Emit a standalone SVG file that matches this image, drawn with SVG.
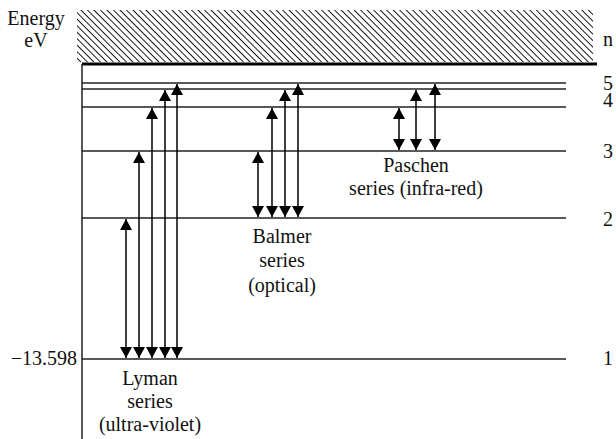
<svg xmlns="http://www.w3.org/2000/svg" width="616" height="439" viewBox="0 0 616 439">
  <style>
    text { font-family: "Times New Roman", Times, "Liberation Serif", Tinos, "Noto Serif", "DejaVu Serif", serif; font-size: 20px; fill: #111; }
    .mid { text-anchor: middle; }
    .end { text-anchor: end; }
    .level { stroke: #222; stroke-width: 1.5; fill: none; }
    .arrow { stroke: #000; stroke-width: 1.5; fill: none; marker-start: url(#head); marker-end: url(#head); }
  </style>
  <defs>
    <pattern id="hatch" patternUnits="userSpaceOnUse" width="4.6" height="4.6" patternTransform="rotate(45)">
      <line x1="0" y1="0.5" x2="4.6" y2="0.5" stroke="#000" stroke-width="0.9"/>
    </pattern>
    <marker id="head" viewBox="0 0 11 12" refX="11" refY="6" markerWidth="11" markerHeight="12" markerUnits="userSpaceOnUse" orient="auto-start-reverse">
      <path d="M0,0 L11,6 L0,12 z" fill="#000"/>
    </marker>
  </defs>

  <!-- continuum (ionised) region above the levels -->
  <g id="continuum">
    <rect x="77" y="10" width="516" height="52" fill="url(#hatch)"/>
    <line x1="82" y1="64" x2="597" y2="64" stroke="#000" stroke-width="3"/>
  </g>

  <!-- energy axis -->
  <g id="axis">
    <line x1="82" y1="64" x2="82" y2="439" stroke="#222" stroke-width="1.5"/>
    <text class="mid" x="36" y="25">Energy</text>
    <text class="mid" x="36" y="47">eV</text>
    <text class="end" x="77" y="365">−13.598</text>
    <text x="603" y="46">n</text>
  </g>

  <!-- energy levels -->
  <g id="levels">
    <line class="level" x1="82" y1="83" x2="566" y2="83"/>
    <line class="level" x1="82" y1="89" x2="566" y2="89"/>
    <line class="level" x1="82" y1="107" x2="566" y2="107"/>
    <line class="level" x1="82" y1="151" x2="566" y2="151"/>
    <line class="level" x1="82" y1="218" x2="566" y2="218"/>
    <line class="level" x1="82" y1="359" x2="566" y2="359"/>
    <text x="603" y="90">5</text>
    <text x="603" y="107">4</text>
    <text x="603" y="158">3</text>
    <text x="603" y="226">2</text>
    <text x="603" y="365">1</text>
  </g>

  <!-- transitions -->
  <g id="connectors">
    <line class="arrow" x1="126" y1="358" x2="126" y2="219"/>
    <line class="arrow" x1="139" y1="358" x2="139" y2="152"/>
    <line class="arrow" x1="152" y1="358" x2="152" y2="108"/>
    <line class="arrow" x1="165" y1="358" x2="165" y2="90"/>
    <line class="arrow" x1="177" y1="358" x2="177" y2="84"/>

    <line class="arrow" x1="258" y1="217" x2="258" y2="152"/>
    <line class="arrow" x1="272" y1="217" x2="272" y2="108"/>
    <line class="arrow" x1="285" y1="217" x2="285" y2="90"/>
    <line class="arrow" x1="298" y1="217" x2="298" y2="84"/>

    <line class="arrow" x1="399" y1="150" x2="399" y2="108"/>
    <line class="arrow" x1="416" y1="150" x2="416" y2="90"/>
    <line class="arrow" x1="435" y1="150" x2="435" y2="84"/>
  </g>

  <g id="lyman">
    <text class="mid" x="150" y="385">Lyman</text>
    <text class="mid" x="150" y="408">series</text>
    <text class="mid" x="150" y="431">(ultra-violet)</text>
  </g>
  <g id="balmer">
    <text class="mid" x="282" y="243">Balmer</text>
    <text class="mid" x="282" y="267">series</text>
    <text class="mid" x="282" y="292">(optical)</text>
  </g>
  <g id="paschen">
    <text class="mid" x="416" y="172">Paschen</text>
    <text class="mid" x="416" y="195">series (infra-red)</text>
  </g>
</svg>
